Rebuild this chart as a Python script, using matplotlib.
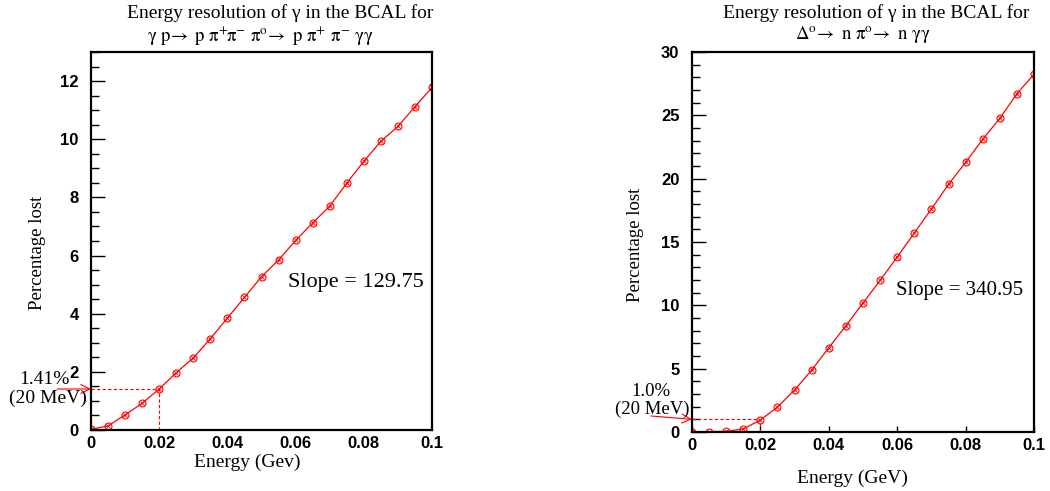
import matplotlib
matplotlib.use('Agg')
import matplotlib.pyplot as plt
from matplotlib.ticker import MultipleLocator

plt.rcParams['font.family'] = ['Liberation Sans', 'DejaVu Sans']
plt.rcParams['mathtext.fontset'] = 'stix'

# photon energy threshold (GeV)
energy = [0.0, 0.005, 0.01, 0.015, 0.02, 0.025, 0.03, 0.035, 0.04, 0.045, 0.05,
          0.055, 0.06, 0.065, 0.07, 0.075, 0.08, 0.085, 0.09, 0.095, 0.1]
# percentage of energy lost, gamma p -> p pi+ pi- pi0
lost_omega = [0.02, 0.14, 0.52, 0.92, 1.41, 1.97, 2.48, 3.14, 3.85, 4.56, 5.27,
              5.85, 6.52, 7.12, 7.70, 8.49, 9.24, 9.93, 10.44, 11.12, 11.78]
# percentage of energy lost, Delta0 -> n pi0
lost_delta = [0.0, 0.03, 0.05, 0.24, 0.95, 1.97, 3.32, 4.89, 6.66, 8.39, 10.18,
              11.97, 13.82, 15.71, 17.61, 19.55, 21.29, 23.11, 24.76, 26.71, 28.24]
xtick_vals = [0, 0.02, 0.04, 0.06, 0.08, 0.1]
xtick_text = ['0', '0.02', '0.04', '0.06', '0.08', '0.1']

W, H = 1050, 491
fig = plt.figure(figsize=(W / 100, H / 100), dpi=100)
serif = ['Liberation Serif', 'DejaVu Serif']


def fx(px):
    return px / W


def fy(py):
    return 1 - py / H


def panel(rect, y, ymax, major, minor, cut, xticks_in):
    ax = fig.add_axes(rect)
    ax.plot(energy, y, color='red', lw=0.9)
    ax.plot(energy, y, 'o', mfc='none', mec='red', ms=5, mew=0.8)
    ax.plot(energy, y, 'x', color='red', ms=2.8, mew=0.6)
    ax.plot([0, 0.02], [cut, cut], '--', color='red', lw=0.8, dashes=(3, 2))
    ax.plot([0.02, 0.02], [0, cut], '--', color='red', lw=0.8, dashes=(3, 2))
    ax.set_xlim(0, 0.1)
    ax.set_ylim(0, ymax)
    ax.set_xticks(xtick_vals)
    ax.set_xticklabels(xtick_text)
    ax.yaxis.set_major_locator(MultipleLocator(major))
    ax.yaxis.set_minor_locator(MultipleLocator(minor))
    ax.tick_params(axis='y', which='major', direction='in', length=10, width=1,
                   labelsize=12, pad=9)
    ax.tick_params(axis='y', which='minor', direction='in', length=6, width=1)
    ax.tick_params(axis='x', direction='in', length=4 if xticks_in else 0, width=1,
                   labelsize=12, pad=4)
    for lab in ax.get_xticklabels() + ax.get_yticklabels():
        lab.set_fontweight('bold')
    for s in ax.spines.values():
        s.set_linewidth(1.6)
    return ax


ax1 = panel([fx(91), fy(430), fx(432) - fx(91), fy(52) - fy(430)],
            lost_omega, 13, 2, 0.5, 1.41, False)
ax2 = panel([fx(692), fy(432), fx(1034) - fx(692), fy(52) - fy(432)],
            lost_delta, 30, 5, 1, 1.0, True)

# titles
fig.text(fx(280), fy(13), 'Energy resolution of \u03b3 in the BCAL for',
         ha='center', va='center', fontsize=14, family=serif)
fig.text(fx(260), fy(36),
         r'$\mathrm{\gamma\ p\!\rightarrow\ p\ \pi^{+}\!\pi^{-}\ \pi^{o}\!\rightarrow\ p\ \pi^{+}\ \pi^{-}\ \gamma\gamma}$',
         ha='center', va='center', fontsize=13.5)
fig.text(fx(876), fy(13), 'Energy resolution of \u03b3 in the BCAL for',
         ha='center', va='center', fontsize=14, family=serif)
fig.text(fx(863), fy(35),
         r'$\mathrm{\Delta^{o}\!\rightarrow\ n\ \pi^{o}\!\rightarrow\ n\ \gamma\gamma}$',
         ha='center', va='center', fontsize=13.5)

# axis labels
fig.text(fx(247), fy(462), 'Energy (Gev)', ha='center', va='center', fontsize=14, family=serif)
fig.text(fx(852), fy(478), 'Energy (GeV)', ha='center', va='center', fontsize=14, family=serif)
fig.text(fx(37), fy(253), 'Percentage lost', ha='center', va='center', rotation=90,
         fontsize=13.5, family=serif)
fig.text(fx(635), fy(245), 'Percentage lost', ha='center', va='center', rotation=90,
         fontsize=13.5, family=serif)

# slope notes
fig.text(fx(356), fy(282), 'Slope = 129.75', ha='center', va='center', fontsize=16, family=serif)
fig.text(fx(960), fy(290), 'Slope = 340.95', ha='center', va='center', fontsize=15, family=serif)

# 20 MeV cut annotations
fig.text(fx(44), fy(379), '1.41%', ha='center', va='center', fontsize=14, family=serif)
fig.text(fx(48), fy(398), '(20 MeV)', ha='center', va='center', fontsize=14, family=serif)
fig.text(fx(651), fy(391), '1.0%', ha='center', va='center', fontsize=13.5, family=serif)
fig.text(fx(652), fy(409), '(20 MeV)', ha='center', va='center', fontsize=13.5, family=serif)

arrow = dict(arrowstyle='->', color='red', lw=0.8, mutation_scale=16, shrinkA=0, shrinkB=0)
ax1.annotate('', xy=(0, 1.41), xytext=(57, H - 389), textcoords='figure pixels',
             arrowprops=arrow, annotation_clip=False)
ax2.annotate('', xy=(0, 1.0), xytext=(651, H - 416), textcoords='figure pixels',
             arrowprops=arrow, annotation_clip=False)

fig.savefig('out.png', dpi=100)
